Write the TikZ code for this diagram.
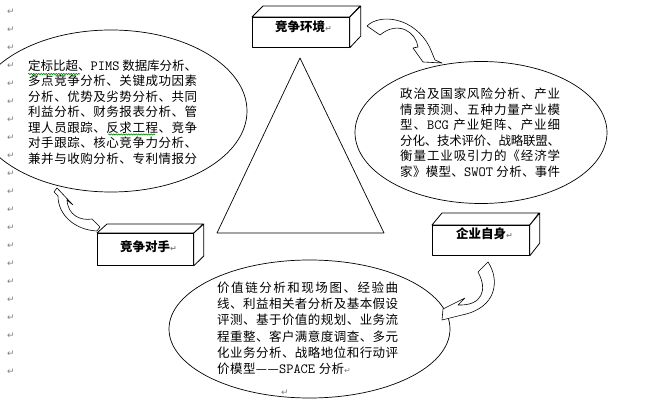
\documentclass[tikz,border=0pt]{standalone}
\usepackage{fontspec}
\setmainfont{Noto Sans CJK SC}
\newfontfamily\dvfont{DejaVu Sans}
\usetikzlibrary{shapes.geometric,decorations.pathmorphing}
\newcommand\lat[1]{{\ttfamily\fontsize{14}{14}\selectfont #1}}
\newcommand\retm{{\dvfont\fontsize{8}{8}\selectfont\color{black!50}↵}}
\makeatletter
\newcommand\jline[2]{\makebox[#1][s]{\expandafter\@tfor\expandafter\jtok\expandafter:\expandafter=#2\do{\jtok\hskip0pt plus 1fil minus 1.2pt}\unskip}}
\makeatother
\begin{document}
\begin{tikzpicture}[x=1pt,y=-1pt,line join=round,
  ell/.style={ellipse,draw,line width=0.7pt,inner sep=0pt},
  face/.style={draw,line width=0.8pt,fill=white},
  blk/.style={draw,line width=0.6pt,fill=white},
  pmark/.style={inner sep=0pt,font=\dvfont\fontsize{9}{9}\selectfont,text=black!50},
  lbl/.style={inner sep=0pt,anchor=west,font=\bfseries\fontsize{12.5}{12.5}\selectfont},
  txt/.style={anchor=base west,inner sep=0pt,font=\fontsize{12.5}{15}\selectfont},
  squig/.style={draw=green!55!black,line width=0.6pt,decorate,decoration={snake,amplitude=0.7pt,segment length=2.5pt}}]
\useasboundingbox[fill=white] (0,0) rectangle (653,411);

% paragraph marks at the left margin
\foreach \k in {0,...,20}
  \node[pmark] (pm\k) at (11,{12+18*\k}) {↵};

% ellipses
\node[ell,minimum width=272pt,minimum height=162pt] (eL) at (111,111) {};
\node[ell,minimum width=252pt,minimum height=142pt] (eR) at (481,132.5) {};
\node[ell,minimum width=281pt,minimum height=138pt] (eB) at (309.5,329) {};

% triangle
\coordinate (tA) at (300,58);
\coordinate (tB) at (217,233);
\coordinate (tC) at (384,233);
\draw[line width=0.7pt] (tA) -- (tB) -- (tC) -- cycle;

% 3D boxes
\node[face,minimum width=97pt,minimum height=30pt,inner sep=0pt,anchor=north west] (bE) at (252,17) {};
\draw[face] (bE.north west) -- ++(11,-11) -- ++(97,0) -- (bE.north east) -- cycle;
\draw[face] (bE.north east) -- ++(11,-11) -- ++(0,30) -- (bE.south east) -- cycle;
\node[lbl] (tE) at (275,27) {竞争环境\retm};

\node[face,minimum width=96pt,minimum height=32pt,inner sep=0pt,anchor=north west] (bC) at (97,233) {};
\draw[face] (bC.north west) -- ++(10,-9) -- ++(96,0) -- (bC.north east) -- cycle;
\draw[face] (bC.north east) -- ++(10,-9) -- ++(0,32) -- (bC.south east) -- cycle;
\node[lbl] (tC2) at (120,247) {竞争对手\retm};

\node[face,minimum width=97pt,minimum height=30pt,inner sep=0pt,anchor=north west] (bS) at (432,225) {};
\draw[face] (bS.north west) -- ++(10,-12) -- ++(97,0) -- (bS.north east) -- cycle;
\draw[face] (bS.north east) -- ++(10,-12) -- ++(0,30) -- (bS.south east) -- cycle;
\node[lbl] (tS) at (456,234) {企业自身\retm};

% curved block arrows
\draw[blk] (367,26) .. controls (380,13) and (415,17) .. (430,48) -- (435,60) -- (442,63) -- (423,62) -- (413,48) -- (418,47)
  .. controls (416,32) and (398,20) .. (380,35) -- cycle;
\draw[blk] (478,272) .. controls (488,290) and (482,306) .. (458,305) -- (465,298) -- (443,309) -- (442,320) -- (462,315)
  .. controls (497,308) and (500,280) .. (488,262) -- cycle;
\draw[blk] (57,188) -- (73,205) -- (67,200) .. controls (68,215) and (80,221) .. (92,219) -- (100,227) -- (97,231)
  .. controls (75,230) and (58,215) .. (58,196) -- (54,192) -- cycle;

% left ellipse text
\foreach \t [count=\i] in {{定标比超、{\lat{PIMS}}~数据库分析、},{多点竞争分析、关键成功因素},{分析、优势及劣势分析、共同},{利益分析、财务报表分析、管},{理人员跟踪、反求工程、竞争},{对手跟踪、核心竞争力分析、},{兼并与收购分析、专利情报分}}
  \node[txt] (lt\i) at (28,{70.5+15.5*(\i-1)}) {\jline{169pt}{\t}};
\path[squig] (28,74) -- (80,74);
\path[squig] (108,134.5) -- (155,134.5);

% right ellipse text
\foreach \t [count=\i] in {{政治及国家风险分析、产业},{情景预测、五种力量产业模},{型、{\lat{BCG}}~产业矩阵、产业细},{分化、技术评价、战略联盟、},{衡量工业吸引力的《经济学},{家》模型、{\lat{SWOT}}~分析、事件}}
  \node[txt] (rt\i) at (400,{98.5+15.6*(\i-1)}) {\jline{160pt}{\t}};

% bottom ellipse text
\foreach \t [count=\i] in {{价值链分析和现场图、经验曲},{线、利益相关者分析及基本假设},{评测、基于价值的规划、业务流},{程重整、客户满意度调查、多元},{化业务分析、战略地位和行动评}}
  \node[txt] (bt\i) at (217,{292.5+16.2*(\i-1)}) {\jline{181pt}{\t}};
\node[txt] (bt6) at (217,{292.5+16.2*5}) {\jline{127pt}{价模型——{\lat{SPACE}}~分析}\retm};
\node[pmark] (pmb) at (285,393) {↵};
\end{tikzpicture}
\end{document}
